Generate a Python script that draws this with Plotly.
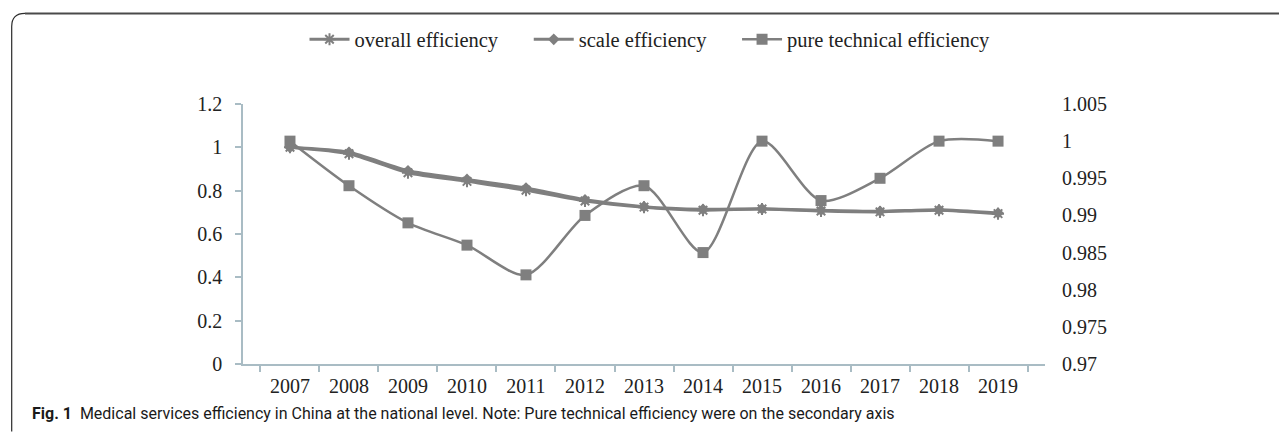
import plotly.graph_objects as go

years = ["2007", "2008", "2009", "2010", "2011", "2012", "2013",
         "2014", "2015", "2016", "2017", "2018", "2019"]
overall_efficiency = [1.0, 0.97, 0.883, 0.843, 0.802, 0.752, 0.724,
                      0.710, 0.715, 0.706, 0.702, 0.710, 0.694]
scale_efficiency = [1.0, 0.977, 0.892, 0.852, 0.812, 0.758, 0.726,
                    0.714, 0.716, 0.710, 0.705, 0.712, 0.697]
pure_technical_efficiency = [1.0, 0.994, 0.989, 0.986, 0.982, 0.990, 0.994,
                             0.985, 1.0, 0.992, 0.995, 1.0, 1.0]

GRAY = "#7f7f7f"
AXIS = "#a9bcc4"
SERIF = "Liberation Serif, Times New Roman, serif"
NB = "\u00a0"

# the page body adds an 8 px offset; the figure is sized to fill the window
OFF = 8
W, H = 1287 - OFF, 434 - OFF
# plot area in page pixels
L, R, T, B = 243, 1045, 102, 364


def px(x):
    return (x - L) / (R - L)


def py(y):
    return (B - y) / (B - T)


fig = go.Figure()
fig.add_trace(go.Scatter(
    x=years, y=overall_efficiency, name="overall efficiency" + NB * 5,
    mode="lines+markers", line=dict(color=GRAY, width=3, shape="spline", smoothing=0.6),
    marker=dict(symbol="asterisk-open", size=10, color=GRAY, line=dict(color=GRAY, width=2)),
))
fig.add_trace(go.Scatter(
    x=years, y=scale_efficiency, name="scale efficiency" + NB * 5,
    mode="lines+markers", line=dict(color=GRAY, width=3, shape="spline", smoothing=0.6),
    marker=dict(symbol="diamond", size=9, color=GRAY),
))
fig.add_trace(go.Scatter(
    x=years, y=pure_technical_efficiency, name="pure technical efficiency",
    yaxis="y2",
    mode="lines+markers", line=dict(color=GRAY, width=2.5, shape="spline", smoothing=0.8),
    marker=dict(symbol="square", size=11, color=GRAY),
))

shapes = [
    # left rule with rounded top-left corner
    dict(type="path", xref="paper", yref="paper",
         path=(f"M {px(11.7)},{py(432)} L {px(11.7)},{py(24)} "
               f"Q {px(11.7)},{py(10.7)} {px(25)},{py(10.7)}"),
         line=dict(color="#2b2b2b", width=1.2)),
    # top rule
    dict(type="line", xref="paper", yref="paper",
         x0=px(25), x1=px(1300), y0=py(10.7), y1=py(10.7),
         line=dict(color="#4a4a4a", width=2)),
]

fig.update_layout(
    width=W, height=H,
    margin=dict(l=L - OFF, r=W - (R - OFF), t=T - OFF, b=H - (B - OFF)),
    paper_bgcolor="white", plot_bgcolor="white",
    font=dict(family=SERIF, size=20, color="#222"),
    showlegend=True,
    legend=dict(orientation="h", x=px(650), xanchor="center", y=py(37), yanchor="middle",
                font=dict(family=SERIF, size=20.5, color="#222"), itemwidth=40,
                tracegroupgap=0, bgcolor="rgba(0,0,0,0)"),
    xaxis=dict(type="category", showgrid=False, showline=True, linecolor=AXIS, linewidth=1.5,
               ticks="outside", tickson="boundaries", ticklen=6, tickcolor=AXIS, tickwidth=1.5,
               tickfont=dict(family=SERIF, size=20, color="#222"), zeroline=False,
               ticklabelstandoff=3),
    yaxis=dict(range=[0, 1.2], dtick=0.2, tick0=0, showgrid=False, showline=True,
               linecolor=AXIS, linewidth=1.5, ticks="outside", ticklen=6, tickcolor=AXIS,
               tickwidth=1.5, tickfont=dict(family=SERIF, size=20, color="#222"), zeroline=False,
               ticklabelstandoff=9),
    yaxis2=dict(range=[0.97, 1.005], dtick=0.005, tick0=0.97, overlaying="y", side="right",
                showgrid=False, showline=False, ticks="", zeroline=False,
                tickfont=dict(family=SERIF, size=20, color="#222"), ticklabelstandoff=16),
    shapes=shapes,
    annotations=[
        dict(xref="paper", yref="paper", x=px(30), y=py(414), xanchor="left", yanchor="middle",
             showarrow=False,
             text="<b>Fig. 1</b>  Medical services efficiency in China at the national level. Note: Pure technical efficiency were on the secondary axis",
             font=dict(family="Roboto, Noto Sans, sans-serif", size=16, color="#1a1a1a")),
    ],
)

fig.write_html("out.html")
